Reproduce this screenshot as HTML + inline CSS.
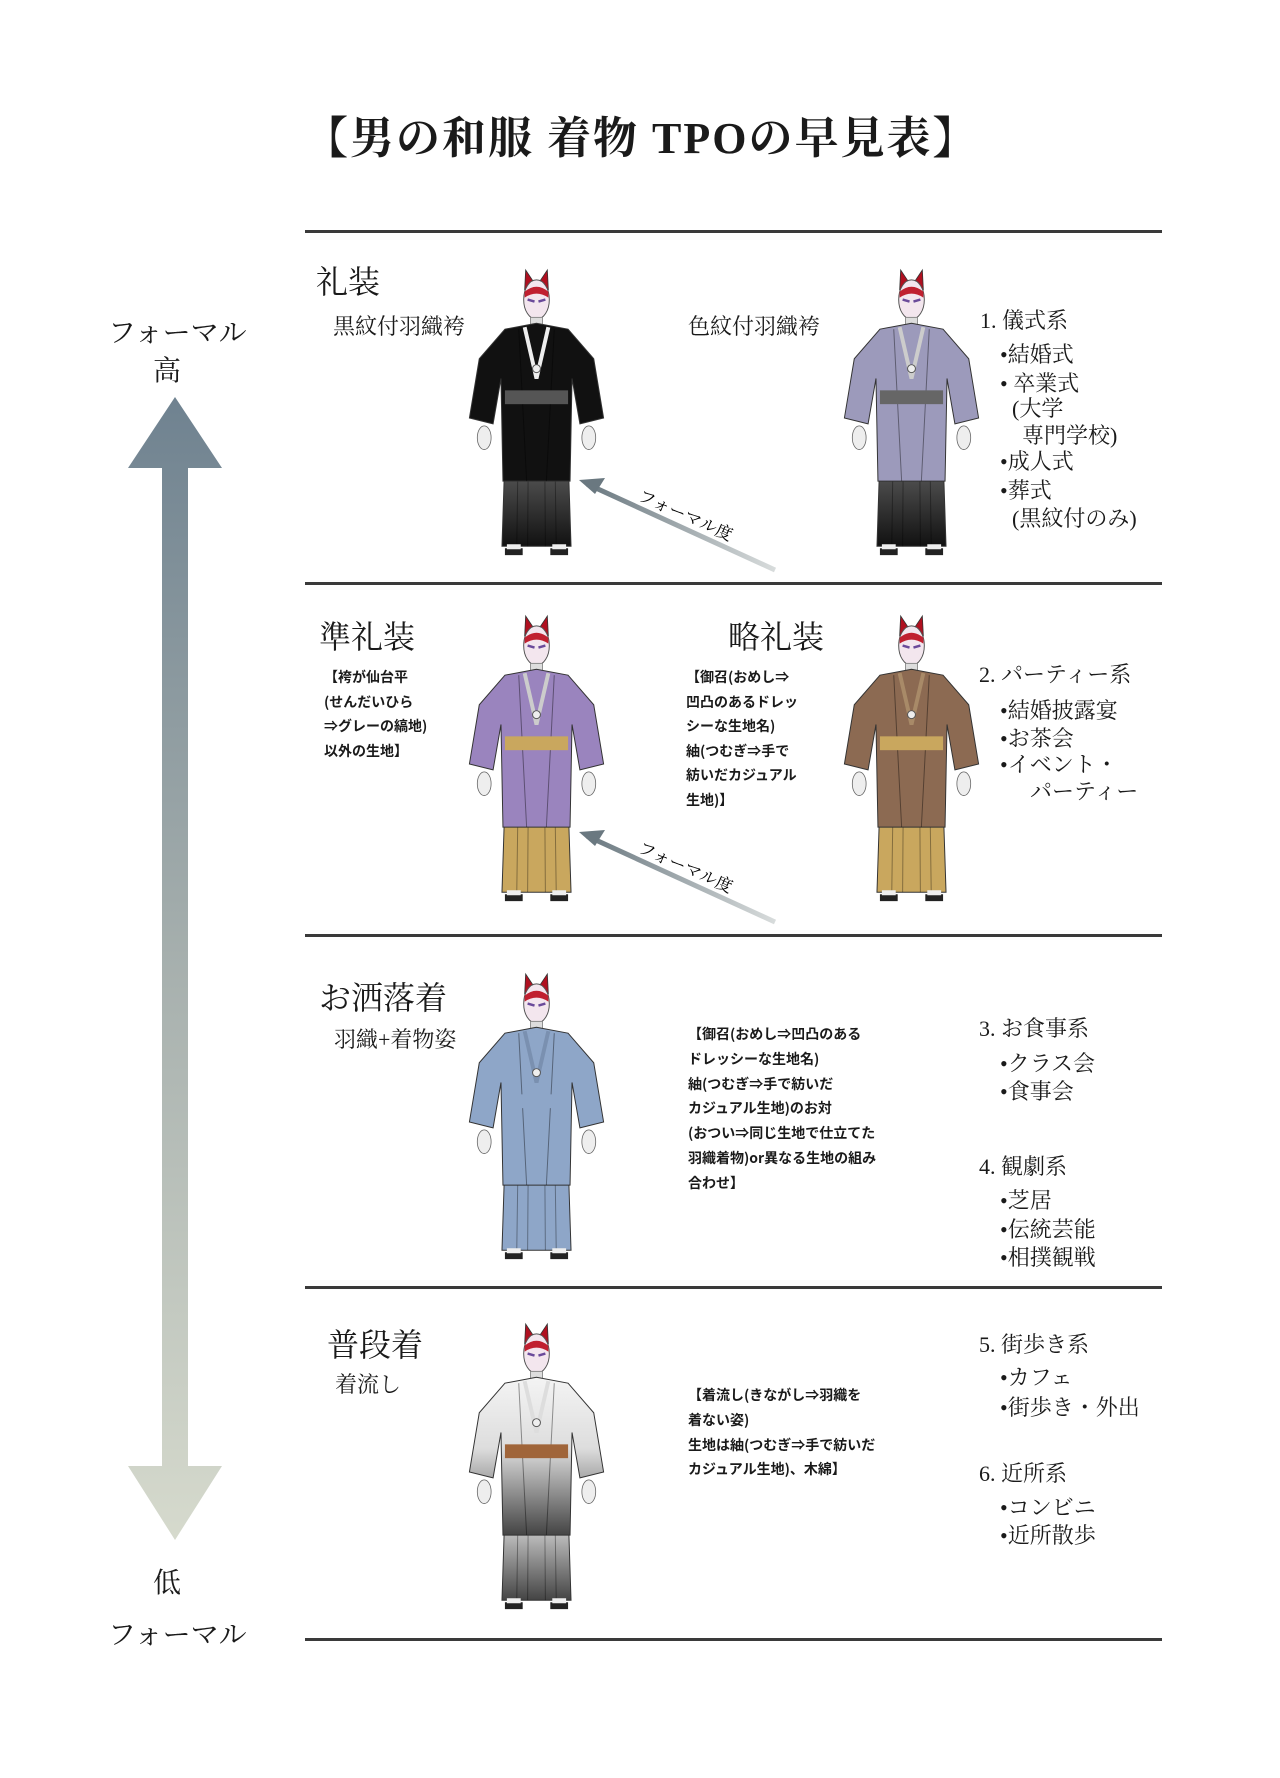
<!DOCTYPE html>
<html><head><meta charset="utf-8">
<style>
html,body{margin:0;padding:0;background:#fff;}
body{width:1280px;height:1778px;position:relative;overflow:hidden;font-family:"Liberation Serif","Noto Serif CJK SC","Noto Sans CJK JP",serif;color:#1a1a1a;}
.t{position:absolute;white-space:nowrap;line-height:1;}
.hr{position:absolute;left:305px;width:857px;height:3px;background:#3a3a3a;}
.sm{font-size:14px;line-height:24.5px;font-family:"Noto Sans CJK JP",sans-serif;font-weight:bold;position:absolute;white-space:nowrap;}
.li{font-size:22px;position:absolute;white-space:nowrap;line-height:1;}
svg.f{position:absolute;width:141px;height:296px;overflow:visible;}
</style></head><body>

<svg width="0" height="0" style="position:absolute">
<defs>
<linearGradient id="gstr" x1="0" y1="0" x2="0" y2="1"><stop offset="0" stop-color="#777"/><stop offset="0.5" stop-color="#555"/><stop offset="1" stop-color="#111"/></linearGradient>
<linearGradient id="gw" x1="0" y1="0" x2="0" y2="1"><stop offset="0" stop-color="#f4f4f4"/><stop offset="0.45" stop-color="#ddd"/><stop offset="1" stop-color="#444"/></linearGradient>
<linearGradient id="gd" x1="0" y1="0" x2="1" y2="0"><stop offset="0" stop-color="#6a7880"/><stop offset="1" stop-color="#d8dcdc"/></linearGradient>
<symbol id="fig" viewBox="0 0 140 300">
 <path d="M58 22 L59 2 L67 14 Z M82 22 L81 2 L73 14 Z" fill="#b01020" stroke="#333" stroke-width="0.8"/>
 <ellipse cx="70" cy="32" rx="13" ry="20" fill="#f3e6ee" stroke="#555" stroke-width="1"/>
 <path d="M58 24 Q70 14 82 24 L82 30 Q70 22 58 30Z" fill="#c02030"/>
 <path d="M61 32 L68 34 M72 34 L79 32" stroke="#6a4a9a" stroke-width="2.5"/>
 <rect x="64" y="50" width="12" height="12" fill="#ddd" stroke="#777" stroke-width="0.8"/>
 <ellipse cx="17" cy="172" rx="7" ry="12" fill="#eee" stroke="#666" stroke-width="0.8"/>
 <ellipse cx="123" cy="172" rx="7" ry="12" fill="#eee" stroke="#666" stroke-width="0.8"/>
 <path d="M40 128 L100 128 L105 282 L35 282 Z" style="fill:var(--hk)" stroke="#333" stroke-width="1"/>
 <path d="M52 140 L50 282 M62 140 L61 282 M78 140 L79 282 M88 140 L90 282" stroke="rgba(0,0,0,.35)" stroke-width="1"/>
 <path d="M70 56 L38 62 L12 92 L2 152 L26 158 L34 112 L36 216 L104 216 L106 112 L114 158 L138 152 L128 92 L102 62 Z" style="fill:var(--ha)" stroke="#333" stroke-width="1"/>
 <path d="M58 60 L70 112 L82 60" fill="none" style="stroke:var(--co)" stroke-width="4"/>
 <path d="M52 62 L60 216 M88 62 L80 216" stroke="rgba(0,0,0,.4)" stroke-width="1"/>
 <rect x="38" y="124" width="64" height="14" style="fill:var(--obi)"/>
 <circle cx="70" cy="102" r="4" fill="#eee" stroke="#555"/>
 <path d="M38 284 h18 v7 h-18z M84 284 h18 v7 h-18z" fill="#222"/>
 <path d="M40 280 h14 v5 h-14z M86 280 h14 v5 h-14z" fill="#eee"/>
</symbol>
</defs></svg>

<div class="t" style="left:304px;top:117px;font-size:44px;letter-spacing:2px;font-weight:bold;">【男の和服 着物 TPOの早見表】</div>

<div class="hr" style="top:230px"></div>
<div class="hr" style="top:582px"></div>
<div class="hr" style="top:934px"></div>
<div class="hr" style="top:1286px"></div>
<div class="hr" style="top:1638px"></div>

<svg style="position:absolute;left:120px;top:390px" width="110" height="1160">
<defs><linearGradient id="ga" x1="0" y1="0" x2="0" y2="1"><stop offset="0" stop-color="#6f8290"/><stop offset="0.5" stop-color="#a7b0ae"/><stop offset="1" stop-color="#d6dacd"/></linearGradient></defs>
<path d="M55 7 L102 78 L68 78 L68 1076 L102 1076 L55 1150 L8 1076 L42 1076 L42 78 L8 78 Z" fill="url(#ga)"/>
</svg>
<div class="t" style="left:108px;top:320px;font-size:28px;">フォーマル</div>
<div class="t" style="left:153px;top:358px;font-size:28px;">高</div>
<div class="t" style="left:153px;top:1570px;font-size:28px;">低</div>
<div class="t" style="left:108px;top:1622px;font-size:28px;">フォーマル</div>

<div class="t" style="left:316px;top:266px;font-size:32px;">礼装</div>
<div class="t" style="left:333px;top:316px;font-size:22px;">黒紋付羽織袴</div>
<div class="t" style="left:688px;top:316px;font-size:22px;">色紋付羽織袴</div>
<svg class="f" style="left:466px;top:268px;--ha:#111;--hk:url(#gstr);--co:#eee;--obi:#555"><use href="#fig"/></svg>
<svg class="f" style="left:841px;top:268px;--ha:#9c9abb;--hk:url(#gstr);--co:#ccc;--obi:#666"><use href="#fig"/></svg>
<div class="li" style="left:980px;top:310px">1. 儀式系</div>
<div class="li" style="left:1000px;top:344px">•結婚式</div>
<div class="li" style="left:1000px;top:373px">• 卒業式</div>
<div class="li" style="left:1012px;top:398px">(大学</div>
<div class="li" style="left:1022px;top:425px">専門学校)</div>
<div class="li" style="left:1000px;top:451px">•成人式</div>
<div class="li" style="left:1000px;top:480px">•葬式</div>
<div class="li" style="left:1012px;top:508px">(黒紋付のみ)</div>

<svg style="position:absolute;left:575px;top:470px" width="220" height="110">
<path d="M12 14 L200 100" stroke="url(#gd)" stroke-width="5"/><path d="M4 10 L30 8 L20 24 Z" fill="#6a7880"/>
<text x="62" y="30" transform="rotate(24 62 30)" font-size="17" font-family="Noto Serif CJK SC,serif">フォーマル度</text></svg>
<svg style="position:absolute;left:575px;top:822px" width="220" height="110">
<path d="M12 14 L200 100" stroke="url(#gd)" stroke-width="5"/><path d="M4 10 L30 8 L20 24 Z" fill="#6a7880"/>
<text x="62" y="30" transform="rotate(24 62 30)" font-size="17" font-family="Noto Serif CJK SC,serif">フォーマル度</text></svg>

<div class="t" style="left:319px;top:621px;font-size:32px;">準礼装</div>
<div class="t" style="left:728px;top:621px;font-size:32px;">略礼装</div>
<div class="sm" style="left:324px;top:665px">【袴が仙台平<br>(せんだいひら<br>⇒グレーの縞地)<br>以外の生地】</div>
<div class="sm" style="left:686px;top:665px">【御召(おめし⇒<br>凹凸のあるドレッ<br>シーな生地名)<br>紬(つむぎ⇒手で<br>紡いだカジュアル<br>生地)】</div>
<svg class="f" style="left:466px;top:614px;--ha:#9a84be;--hk:#c9a75e;--co:#ccc;--obi:#c9a75e"><use href="#fig"/></svg>
<svg class="f" style="left:841px;top:614px;--ha:#8c6a52;--hk:#c9a75e;--co:#a88a68;--obi:#c9a75e"><use href="#fig"/></svg>
<div class="li" style="left:979px;top:664px">2. パーティー系</div>
<div class="li" style="left:1000px;top:700px">•結婚披露宴</div>
<div class="li" style="left:1000px;top:728px">•お茶会</div>
<div class="li" style="left:1000px;top:754px">•イベント・</div>
<div class="li" style="left:1030px;top:781px">パーティー</div>

<div class="t" style="left:319px;top:982px;font-size:32px;">お洒落着</div>
<div class="t" style="left:334px;top:1029px;font-size:22px;">羽織+着物姿</div>
<div class="sm" style="left:688px;top:1022px;line-height:24.8px">【御召(おめし⇒凹凸のある<br>ドレッシーな生地名)<br>紬(つむぎ⇒手で紡いだ<br>カジュアル生地)のお対<br>(おつい⇒同じ生地で仕立てた<br>羽織着物)or異なる生地の組み<br>合わせ】</div>
<svg class="f" style="left:466px;top:972px;--ha:#8ea6c8;--hk:#8ea6c8;--co:#7a90b0;--obi:#8ea6c8"><use href="#fig"/></svg>
<div class="li" style="left:979px;top:1018px">3. お食事系</div>
<div class="li" style="left:1000px;top:1053px">•クラス会</div>
<div class="li" style="left:1000px;top:1081px">•食事会</div>
<div class="li" style="left:979px;top:1156px">4. 観劇系</div>
<div class="li" style="left:1000px;top:1190px">•芝居</div>
<div class="li" style="left:1000px;top:1219px">•伝統芸能</div>
<div class="li" style="left:1000px;top:1247px">•相撲観戦</div>

<div class="t" style="left:327px;top:1329px;font-size:32px;">普段着</div>
<div class="t" style="left:335px;top:1374px;font-size:22px;">着流し</div>
<div class="sm" style="left:688px;top:1383px;line-height:24.8px">【着流し(きながし⇒羽織を<br>着ない姿)<br>生地は紬(つむぎ⇒手で紡いだ<br>カジュアル生地)、木綿】</div>
<svg class="f" style="left:466px;top:1322px;--ha:url(#gw);--hk:url(#gw);--co:#ddd;--obi:#a0653a"><use href="#fig"/></svg>
<div class="li" style="left:979px;top:1334px">5. 街歩き系</div>
<div class="li" style="left:1000px;top:1367px">•カフェ</div>
<div class="li" style="left:1000px;top:1397px">•街歩き・外出</div>
<div class="li" style="left:979px;top:1463px">6. 近所系</div>
<div class="li" style="left:1000px;top:1497px">•コンビニ</div>
<div class="li" style="left:1000px;top:1525px">•近所散歩</div>

</body></html>
